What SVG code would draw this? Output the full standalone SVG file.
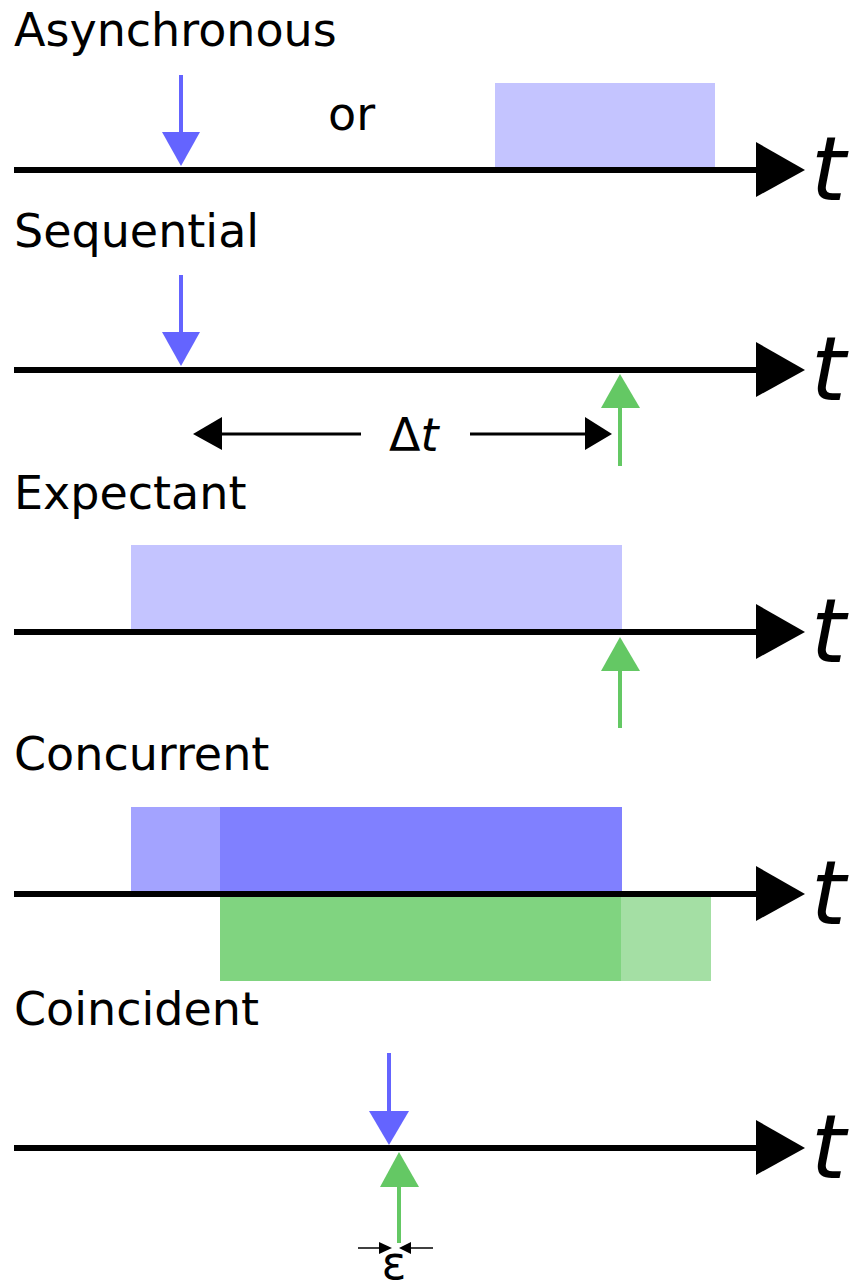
<svg xmlns="http://www.w3.org/2000/svg" width="854" height="1285" viewBox="0 0 854 1285">
<style>
.lbl{font-family:"DejaVu Sans",sans-serif;font-size:46px;fill:#000}
.tt{font-family:"DejaVu Sans",sans-serif;font-size:89px;font-style:italic;fill:#000}
.axis{stroke:#000;stroke-width:6;fill:none}
.bl{stroke:#6464ff;stroke-width:4;fill:none}
.gr{stroke:#64c864;stroke-width:4;fill:none}
.blh{fill:#6464ff}
.grh{fill:#64c864}
.dim{stroke:#000;stroke-width:3;fill:none}
</style>
<rect width="854" height="1285" fill="#fff"/>
<g id="asynchronous">
<text class="lbl" x="14" y="46">Asynchronous</text>
<rect x="495" y="83" width="220" height="84" fill="#c4c4ff"/>
<text class="lbl" x="328" y="130">or</text>
</g>
<g id="expectant">
<text class="lbl" x="14" y="509">Expectant</text>
<rect x="131" y="545" width="491" height="84" fill="#c4c4ff"/>
</g>
<g id="concurrent">
<text class="lbl" x="14" y="770">Concurrent</text>
<rect x="131" y="807" width="89" height="84" fill="#a3a3ff"/>
<rect x="220" y="807" width="402" height="84" fill="#8080ff"/>
<rect x="220" y="897" width="401" height="84" fill="#80d480"/>
<rect x="621" y="897" width="90" height="84" fill="#a4dfa4"/>
</g>
<g id="sequential">
<text class="lbl" x="14" y="247">Sequential</text>
<text class="lbl" x="389" y="451">Δ<tspan font-style="italic">t</tspan></text>
</g>
<g id="coincident">
<text class="lbl" x="14" y="1025">Coincident</text>
<text class="lbl" x="394" y="1279" text-anchor="middle">ε</text>
</g>
<g id="connectors">
<g id="axes">
<line class="axis" x1="14" y1="170" x2="760" y2="170"/>
<polygon points="756,142 805,170 756,197"/>
<text class="tt" x="811" y="200">t</text>
<line class="axis" x1="14" y1="370" x2="760" y2="370"/>
<polygon points="756,342 805,370 756,397"/>
<text class="tt" x="811" y="400">t</text>
<line class="axis" x1="14" y1="632" x2="760" y2="632"/>
<polygon points="756,604 805,632 756,659"/>
<text class="tt" x="811" y="662">t</text>
<line class="axis" x1="14" y1="894" x2="760" y2="894"/>
<polygon points="756,866 805,894 756,921"/>
<text class="tt" x="811" y="924">t</text>
<line class="axis" x1="14" y1="1148" x2="760" y2="1148"/>
<polygon points="756,1120 805,1148 756,1175"/>
<text class="tt" x="811" y="1178">t</text>
</g>
<line class="bl" x1="181" y1="75" x2="181" y2="134"/>
<polygon class="blh" points="162,132 200,132 181,166"/>
<line class="bl" x1="181" y1="275" x2="181" y2="334"/>
<polygon class="blh" points="162,332 200,332 181,366"/>
<line class="gr" x1="620" y1="466" x2="620" y2="406"/>
<polygon class="grh" points="601,408 640,408 620,374"/>
<line class="dim" x1="220" y1="434" x2="361" y2="434"/>
<polygon points="193,434 222,417 222,450"/>
<line class="dim" x1="470" y1="434" x2="588" y2="434"/>
<polygon points="612,434 585,417 585,450"/>
<line class="gr" x1="620" y1="728" x2="620" y2="668"/>
<polygon class="grh" points="601,671 640,671 620,637"/>
<line class="bl" x1="389" y1="1053" x2="389" y2="1113"/>
<polygon class="blh" points="369,1111 409,1111 389,1145"/>
<line class="gr" x1="399" y1="1243" x2="399" y2="1185"/>
<polygon class="grh" points="380,1187 419,1187 399,1152"/>
<line x1="358" y1="1248" x2="382" y2="1248" stroke="#000" stroke-width="1.5"/>
<polygon points="392,1248 379,1242 379,1254"/>
<line x1="408" y1="1248" x2="433" y2="1248" stroke="#000" stroke-width="1.5"/>
<polygon points="399,1248 411,1242 411,1254"/>
</g>
</svg>
